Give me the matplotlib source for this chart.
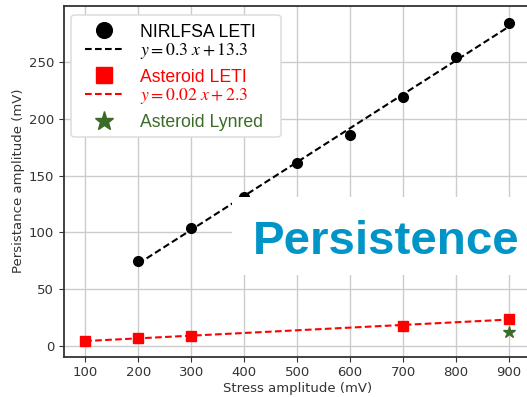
import numpy as np
import matplotlib.pyplot as plt
from matplotlib.patches import Rectangle, FancyBboxPatch
from matplotlib.legend_handler import HandlerBase
from matplotlib.lines import Line2D

plt.rcParams['mathtext.fontset'] = 'stix'

# data
stress_nirl = np.array([200, 300, 400, 500, 600, 700, 800, 900])
pers_nirl = np.array([75, 104, 131, 161, 186, 219, 254, 284])

stress_ast = np.array([100, 200, 300, 700, 900])
pers_ast = np.array([4.7, 7.3, 9.0, 18.1, 24.0])

stress_lyn = np.array([900])
pers_lyn = np.array([12.5])

label_nirl = 'NIRLFSA LETI'
label_nirl_fit = r'$y = 0.3\ x + 13.3$'
label_ast = 'Asteroid LETI'
label_ast_fit = r'$y = 0.02\ x + 2.3$'
label_lyn = 'Asteroid Lynred'

green = '#3c6b27'
blue = '#0095c6'
dash = (3.2, 1.6)

# linear fits
p_nirl = np.polyfit(stress_nirl, pers_nirl, 1)
p_ast = np.polyfit(stress_ast, pers_ast, 1)


class Pair:
    # marker entry + fit line entry shown as one two-line legend item
    def __init__(self, marker_line, fit_line, msize):
        self.marker_line = marker_line
        self.fit_line = fit_line
        self.msize = msize


class PairHandler(HandlerBase):
    def create_artists(self, legend, orig, xdescent, ydescent, width, height,
                       fontsize, trans):
        mk, ln = orig.marker_line, orig.fit_line
        m = Line2D([width / 2 - xdescent], [1.08 * fontsize],
                   marker=mk.get_marker(), color=mk.get_color(),
                   markersize=orig.msize, linestyle='none')
        l = Line2D([-xdescent, width - xdescent], [-0.02 * fontsize] * 2,
                   color=ln.get_color(), linewidth=ln.get_linewidth(),
                   linestyle='--', dashes=dash)
        m.set_transform(trans)
        l.set_transform(trans)
        return [m, l]


W, H = 527, 397
fig = plt.figure(figsize=(W / 100, H / 100), dpi=100)
ax = fig.add_axes([0.1214, 0.102, 0.885, 0.883])

ax.grid(True, color='#cccccc', linewidth=1)
ax.set_axisbelow(True)

h1, = ax.plot(stress_nirl, pers_nirl, 'o', color='black', markersize=7, zorder=3)
h2, = ax.plot(stress_nirl, np.polyval(p_nirl, stress_nirl), '--', color='black',
              linewidth=1.5, dashes=dash)
h3, = ax.plot(stress_ast, pers_ast, 's', color='red', markersize=6.5, zorder=3)
h4, = ax.plot(stress_ast, np.polyval(p_ast, stress_ast), '--', color='red',
              linewidth=1.5, dashes=dash)
h5, = ax.plot(stress_lyn, pers_lyn, '*', color=green, markersize=9, zorder=3)

ax.set_xlim(60, 940)
ax.set_ylim(-9, 299)
ax.set_xticks(np.arange(100, 901, 100))
ax.set_yticks(np.arange(0, 251, 50))
ax.tick_params(colors='#333333', labelsize=9.5)
for s in ax.spines.values():
    s.set_color('#333333')
    s.set_linewidth(1.3)
ax.set_xlabel('Stress amplitude (mV)', color='#333333', fontsize=9.5, labelpad=2)
ax.set_ylabel('Persistance amplitude (mV)', color='#333333', fontsize=9.5, labelpad=3)

# legend frame drawn by hand, legend itself without frame
frame = FancyBboxPatch((71 / W, 1 - 137 / H), 210 / W, 122 / H,
                       boxstyle='round,pad=0,rounding_size=0.008',
                       transform=fig.transFigure, facecolor='white',
                       edgecolor='#d9d9d9', linewidth=1, zorder=4.5)
ax.add_patch(frame)

pairs = [Pair(h1, h2, 11.3), Pair(h3, h4, 12.0)]
leg = ax.legend([pairs[0], pairs[1], h5],
                [label_nirl + '\n' + label_nirl_fit,
                 label_ast + '\n' + label_ast_fit,
                 label_lyn],
                handler_map={Pair: PairHandler()},
                loc='upper left', bbox_to_anchor=(85 / W, 1 - 24 / H),
                bbox_transform=fig.transFigure,
                prop={'family': 'Liberation Sans', 'size': 12.7},
                labelcolor=['black', 'red', green],
                markerscale=1.55, frameon=False, borderaxespad=0, borderpad=0,
                handlelength=2.1, handletextpad=1.0, labelspacing=0.45)
for t in leg.get_texts():
    t.set_linespacing(1.0)

# white box with the title
fig.add_artist(Rectangle((232 / W, 1 - 275 / H), 300 / W, 78 / H,
                         transform=fig.transFigure, facecolor='white',
                         edgecolor='none', zorder=5))
fig.text(253 / W, 1 - 254 / H, 'Persistence', color=blue, fontsize=34.2,
         fontweight='bold', family='Liberation Sans', zorder=6)

fig.savefig('out.png', dpi=100)
